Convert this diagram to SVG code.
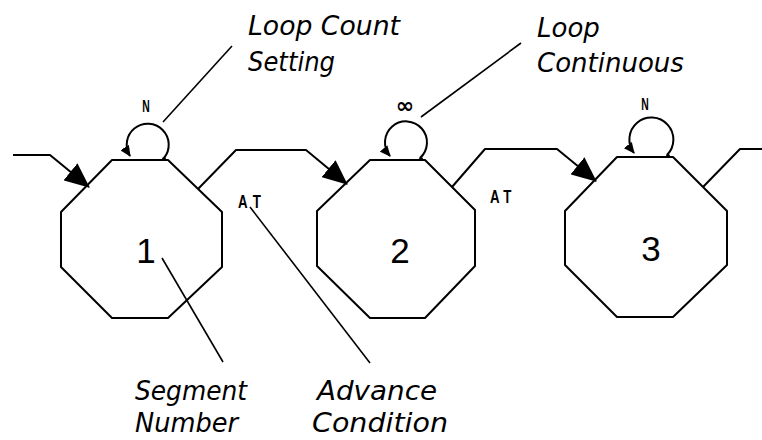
<svg xmlns="http://www.w3.org/2000/svg" width="762" height="440" viewBox="0 0 762 440">
<style>
.oct{fill:none;stroke:#000;stroke-width:2;stroke-linejoin:round}
.conn{fill:none;stroke:#000;stroke-width:2;stroke-linejoin:round}
.loop{fill:none;stroke:#000;stroke-width:2}
.leader{fill:none;stroke:#000;stroke-width:1.6}
.lbl{font-family:"DejaVu Sans",sans-serif;font-style:oblique;font-size:26px;fill:#000}
.num{font-family:"Liberation Sans",sans-serif;font-size:35px;fill:#000;text-anchor:middle}
.cond{font-family:"Liberation Sans",sans-serif;font-weight:bold;font-size:19px;fill:#000}
.cnt{font-family:"Liberation Sans",sans-serif;font-weight:bold;font-size:16px;fill:#000;text-anchor:middle}
.inf{font-family:"DejaVu Sans",sans-serif;font-weight:bold;font-size:22px;fill:#000;text-anchor:middle}
</style>
<defs>
<marker id="arr" viewBox="0 0 25 22" refX="24" refY="11" markerWidth="25" markerHeight="22" markerUnits="userSpaceOnUse" orient="auto">
<path d="M0,0 L25,11 L0,22 Z" fill="#000"/>
</marker>
<marker id="larr" viewBox="0 0 11 10" refX="10" refY="5" markerWidth="11" markerHeight="10" markerUnits="userSpaceOnUse" orient="auto">
<path d="M0,0 L11,5 L0,10 Z" fill="#000"/>
</marker>
</defs>
<rect width="762" height="440" fill="#fff"/>

<g id="connectors">
<polyline class="conn" points="13,155 50,155 89,187" marker-end="url(#arr)"/>
<polyline class="conn" points="198,189 236,150 306,150 347,184" marker-end="url(#arr)"/>
<polyline class="conn" points="452,187 485,149 557,149 596,181" marker-end="url(#arr)"/>
<polyline class="conn" points="703,187 740,149 762,149"/>
</g>

<g id="segment1">
<polygon class="oct" points="112,160 168,160 222,212 222,267 168,318 112,318 61,267 61,212"/>
<text class="num" x="146" y="263">1</text>
<path class="loop" d="M164,158 A21,21 0 1,0 130,156" marker-end="url(#larr)"/>
<circle cx="164" cy="159" r="2" fill="#000"/>
<text class="cnt" transform="translate(146,112) scale(0.65,1)">N</text>
</g>

<g id="segment2">
<polygon class="oct" points="370,160 425,160 475,210 475,266 425,318 370,318 317,266 317,211"/>
<text class="num" x="400" y="263">2</text>
<path class="loop" d="M420,158 A21,21 0 1,0 390,156" marker-end="url(#larr)"/>
<circle cx="421" cy="159" r="2" fill="#000"/>
<text class="inf" x="405" y="113">∞</text>
</g>

<g id="segment3">
<polygon class="oct" points="617,157 673,157 727,211 727,265 673,317 617,317 565,265 565,211"/>
<text class="num" x="651" y="261">3</text>
<path class="loop" d="M667,155 A22,22 0 1,0 634,153" marker-end="url(#larr)"/>
<circle cx="668" cy="156" r="2" fill="#000"/>
<text class="cnt" transform="translate(645,110) scale(0.65,1)">N</text>
</g>

<g id="advance-conditions">
<text class="cond" transform="translate(238,208) scale(0.7,1)" x="0 21">AT</text>
<text class="cond" transform="translate(490,203) scale(0.7,1)" x="0 19">AT</text>
</g>

<g id="annotations">
<line class="leader" x1="232" y1="46" x2="163" y2="122"/>
<line class="leader" x1="521" y1="43" x2="421" y2="117"/>
<line class="leader" x1="162" y1="258" x2="223" y2="362"/>
<line class="leader" x1="250" y1="207" x2="370" y2="363"/>
<text class="lbl" x="248" y="35" textLength="152" lengthAdjust="spacingAndGlyphs">Loop Count</text>
<text class="lbl" x="248" y="71" textLength="87" lengthAdjust="spacingAndGlyphs">Setting</text>
<text class="lbl" x="537" y="37">Loop</text>
<text class="lbl" x="537" y="72">Continuous</text>
<text class="lbl" x="135" y="400" textLength="112" lengthAdjust="spacingAndGlyphs">Segment</text>
<text class="lbl" x="135" y="432" textLength="103" lengthAdjust="spacingAndGlyphs">Number</text>
<text class="lbl" x="317" y="400" textLength="120" lengthAdjust="spacingAndGlyphs">Advance</text>
<text class="lbl" x="312" y="432" textLength="136" lengthAdjust="spacingAndGlyphs">Condition</text>
</g>
</svg>
